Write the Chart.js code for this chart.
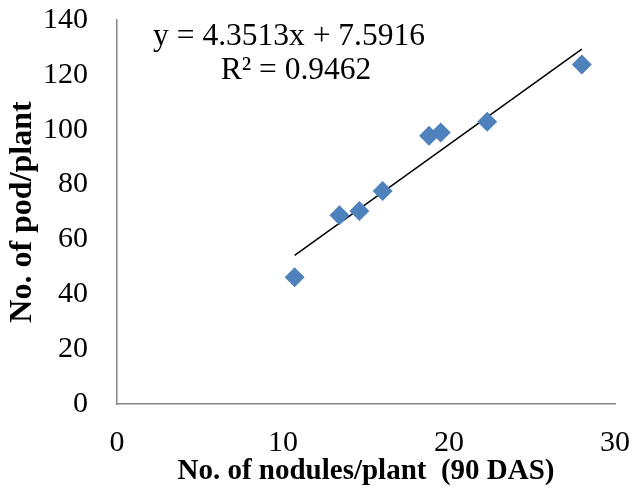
<!DOCTYPE html>
<html>
<head>
<meta charset="utf-8">
<script src="https://cdn.jsdelivr.net/npm/chart.js@4.4.1/dist/chart.umd.min.js"></script>
<style>
  html, body { margin: 0; padding: 0; background: #fff; }
  #wrap { width: 635px; height: 491px; }
</style>
</head>
<body>
<div id="wrap"><canvas id="chart" width="635" height="491"></canvas></div>
<script>
// ======== Data ========
const nodules = [10.7, 13.4, 14.6, 16.0, 18.8, 19.5, 22.3, 28.0];
const pods = [46.2, 68.8, 70.4, 77.7, 97.8, 99.0, 102.9, 123.8];
const trendX = [10.7, 28.0];
const trendY = [54.2, 129.4];
const xTicks = [0, 10, 20, 30];
const yTicks = [0, 20, 40, 60, 80, 100, 120, 140];
const equationLines = ["y = 4.3513x + 7.5916", "R\u00B2 = 0.9462"];

const serif = "'Liberation Serif', 'Times New Roman', serif";

// ======== Trendline equation label ========
const equationLabel = {
  id: "equationLabel",
  afterDraw(chart) {
    const ctx = chart.ctx;
    const area = chart.chartArea;
    ctx.save();
    ctx.fillStyle = "#000";
    ctx.font = "31.5px " + serif;
    ctx.textAlign = "center";
    ctx.textBaseline = "alphabetic";
    ctx.fillText(equationLines[0], area.left + 172, area.top + 25);
    ctx.fillText(equationLines[1], area.left + 179, area.top + 59);
    ctx.restore();
  },
};

new Chart(document.getElementById("chart").getContext("2d"), {
  type: "scatter",
  data: {
    datasets: [
      {
        label: "Pods",
        data: nodules.map((x, i) => ({ x, y: pods[i] })),
        pointStyle: "rectRot",
        pointRadius: 10,
        pointHoverRadius: 10,
        backgroundColor: "#4f81bd",
        borderColor: "#4f81bd",
        borderWidth: 0,
        order: 1,
      },
      {
        label: "Trend",
        type: "line",
        data: trendX.map((x, i) => ({ x, y: trendY[i] })),
        borderColor: "#000",
        borderWidth: 1.5,
        pointRadius: 0,
        fill: false,
        order: 2,
      },
    ],
  },
  options: {
    responsive: false,
    animation: false,
    layout: { padding: { top: 20, right: 20, left: 0, bottom: 0 } },
    plugins: {
      legend: { display: false },
      tooltip: { enabled: false },
    },
    scales: {
      x: {
        type: "linear",
        min: 0,
        max: 30,
        afterFit: (s) => {
          s.height = 87;
          s.paddingLeft = 0;
          s.paddingRight = 0;
        },
        afterBuildTicks: (s) => { s.ticks = xTicks.map((v) => ({ value: v })); },
        grid: { display: false, drawTicks: false },
        border: { display: true, color: "#868686", width: 1.5 },
        ticks: { color: "#000", padding: 21, font: { family: serif, size: 30 } },
        title: {
          display: true,
          text: "No. of nodules/plant  (90 DAS)",
          color: "#000",
          padding: { top: 0, bottom: 2 },
          font: { family: serif, size: 29, weight: "bold" },
        },
      },
      y: {
        type: "linear",
        min: 0,
        max: 140,
        afterFit: (s) => {
          s.width = 117;
          s.paddingTop = 0;
          s.paddingBottom = 0;
        },
        afterBuildTicks: (s) => { s.ticks = yTicks.map((v) => ({ value: v })); },
        grid: { display: false, drawTicks: false },
        border: { display: true, color: "#868686", width: 1.5 },
        ticks: { color: "#000", padding: 29, font: { family: serif, size: 30 } },
        title: {
          display: true,
          text: "No. of pod/plant",
          color: "#000",
          padding: { top: 4, bottom: 0 },
          font: { family: serif, size: 32, weight: "bold" },
        },
      },
    },
  },
  plugins: [equationLabel],
});
</script>
</body>
</html>
